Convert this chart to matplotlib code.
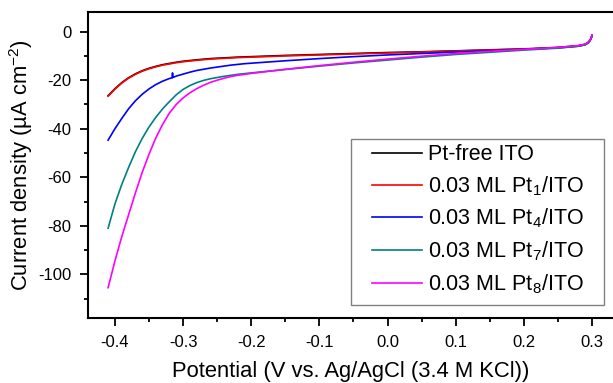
import matplotlib
matplotlib.use("Agg")
import matplotlib.pyplot as plt
from matplotlib.patches import Rectangle

plt.rcParams['font.family'] = ['Liberation Sans', 'DejaVu Sans']
plt.rcParams['mathtext.fontset'] = 'custom'
plt.rcParams['mathtext.rm'] = 'Liberation Sans'
plt.rcParams['mathtext.it'] = 'Liberation Sans:italic'
plt.rcParams['mathtext.bf'] = 'Liberation Sans:bold'
plt.rcParams['axes.unicode_minus'] = False

# Potential grid (V vs. Ag/AgCl)
potential = [-0.41, -0.40, -0.39, -0.38, -0.37, -0.36, -0.35, -0.34, -0.33, -0.32,
             -0.31, -0.30, -0.29, -0.28, -0.27, -0.26, -0.25, -0.24, -0.23, -0.22,
             -0.21, -0.20, -0.15, -0.10, -0.05, 0.0,
             0.05, 0.10, 0.15, 0.20, 0.25, 0.28, 0.29, 0.295, 0.298, 0.30]

j_pt_free = [-26.4, -23.5, -21.0, -19.0, -17.4, -16.1, -15.1, -14.3, -13.6, -13.1,
             -12.6, -12.2, -11.9, -11.6, -11.35, -11.1, -10.95, -10.8, -10.65, -10.5,
             -10.4, -10.3, -9.8, -9.4, -9.0, -8.6,
             -8.3, -7.9, -7.5, -7.1, -6.5, -5.8, -5.2, -4.3, -3.0, -1.5]
j_pt1 = [-26.6, -23.7, -21.2, -19.2, -17.6, -16.3, -15.3, -14.5, -13.8, -13.3,
         -12.8, -12.4, -12.1, -11.8, -11.55, -11.3, -11.15, -11.0, -10.85, -10.7,
         -10.6, -10.5, -10.0, -9.6, -9.2, -8.8,
         -8.4, -8.0, -7.6, -7.2, -6.7, -6.0, -5.4, -4.5, -3.2, -1.7]
potential_pt4 = [-0.41, -0.40, -0.39, -0.38, -0.37, -0.36, -0.35, -0.34, -0.33, -0.32,
                 -0.316, -0.3155, -0.315,
                 -0.31, -0.30, -0.29, -0.28, -0.27, -0.26, -0.25, -0.24, -0.23, -0.22,
                 -0.21, -0.20, -0.15, -0.10, -0.05, 0.0,
                 0.05, 0.10, 0.15, 0.20, 0.25, 0.28, 0.29, 0.295, 0.298, 0.30]
j_pt4 = [-44.7, -40.0, -35.8, -31.8, -28.5, -25.8, -23.6, -21.8, -20.4, -19.3,
         -19.0, -17.0, -18.9,
         -18.3, -17.5, -16.7, -16.0, -15.5, -15.0, -14.6, -14.2, -13.8, -13.5,
         -13.2, -13.0, -12.0, -11.1, -10.3, -9.6,
         -9.0, -8.4, -7.9, -7.3, -6.6, -5.9, -5.3, -4.4, -3.1, -1.6]
j_pt7 = [-81.0, -71.0, -63.0, -56.0, -49.5, -44.0, -39.3, -35.3, -31.8, -28.8,
         -26.0, -23.8, -22.2, -21.0, -20.1, -19.4, -18.9, -18.4, -18.0, -17.6,
         -17.3, -17.0, -15.6, -14.2, -12.9, -11.7,
         -10.5, -9.4, -8.5, -7.6, -6.8, -6.0, -5.4, -4.5, -3.2, -1.7]
j_pt8 = [-105.5, -94.5, -84.5, -75.5, -66.5, -58.0, -50.5, -43.8, -38.2, -33.5,
         -30.0, -27.3, -25.2, -23.5, -22.1, -20.9, -20.0, -19.2, -18.5, -18.0,
         -17.6, -17.2, -15.5, -14.0, -12.6, -11.3,
         -10.1, -9.0, -8.1, -7.3, -6.5, -5.7, -5.1, -4.2, -2.9, -1.4]

labels = ['Pt-free ITO', '0.03 ML Pt$_1$/ITO', '0.03 ML Pt$_4$/ITO',
          '0.03 ML Pt$_7$/ITO', '0.03 ML Pt$_8$/ITO']
colors = ['#000000', '#ff0000', '#0000ff', '#008080', '#ff00ff']

fig = plt.figure(figsize=(6.13, 3.83), dpi=100)
ax = fig.add_axes([88/613, 65/383, 1 - 88/613, 306/383])

series = [(potential, j_pt_free), (potential, j_pt1), (potential_pt4, j_pt4),
          (potential, j_pt7), (potential, j_pt8)]
for (x, y), lab, c in zip(series, labels, colors):
    ax.plot(x, y, color=c, lw=1.2, label=lab)

ax.set_xlim(-0.4395, 0.3307)
ax.set_ylim(-118, 8.1)
ax.set_xticks([-0.4, -0.3, -0.2, -0.1, 0.0, 0.1, 0.2, 0.3])
ax.set_xticklabels(['-0.4', '-0.3', '-0.2', '-0.1', '0.0', '0.1', '0.2', '0.3'])
ax.set_xticks([-0.35, -0.25, -0.15, -0.05, 0.05, 0.15, 0.25], minor=True)
ax.set_yticks([-100, -80, -60, -40, -20, 0])
ax.set_yticks([-110, -90, -70, -50, -30, -10], minor=True)

for s in ['left', 'bottom', 'top']:
    ax.spines[s].set_linewidth(1.5)
ax.spines['right'].set_visible(False)
ax.tick_params(which='major', direction='out', length=6, width=1.3, labelsize=12, pad=6)
ax.tick_params(which='minor', direction='out', length=3, width=1.3)
ax.tick_params(top=False, right=False)

ax.set_xlabel('Potential (V vs. Ag/AgCl (3.4 M KCl))', fontsize=15.8, labelpad=8)
ax.set_ylabel('Current density (µA cm$^{-2}$)', fontsize=15.8, labelpad=2)

# legend frame
frame = Rectangle((351/613, 1 - 305/383), 253/613, 166/383, transform=fig.transFigure,
                  facecolor='white', edgecolor='#808080', lw=1.0, zorder=4,
                  clip_on=False)
ax.add_patch(frame)

leg = ax.legend(loc='center left', bbox_to_anchor=(372/613, 1 - 220/383),
                bbox_transform=fig.transFigure, fontsize=15.5, frameon=False,
                handlelength=2.3, handletextpad=0.3, labelspacing=0.42,
                borderpad=0, borderaxespad=0)
leg.set_zorder(5)
for line in leg.get_lines():
    line.set_linewidth(1.2)

fig.savefig('out.png', dpi=100)
